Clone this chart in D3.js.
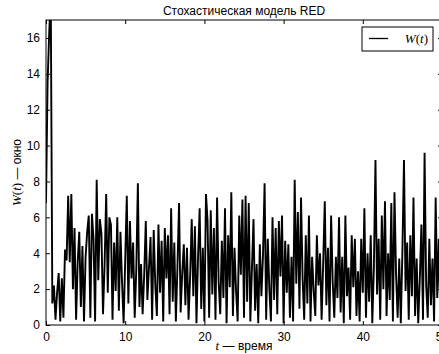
<!DOCTYPE html>
<html>
<head>
<meta charset="utf-8">
<script src="https://cdn.jsdelivr.net/npm/d3@7"></script>
<style>
  body { margin: 0; background: #fff; }
  svg { display: block; font-family: "Liberation Sans", Arial, sans-serif; }
</style>
</head>
<body>
<div id="chart"></div>
<script>
// sample step of the series (t = i * dt)
const dt = 0.2;

// W(t), one value per dt
const windowValues = [
  6.8, 13.5, 16.2, 18.5, 1.2, 2.2, 0.3, 1.8, 2.9, 0.2,
  2.6, 0.4, 4.2, 3.6, 7.2, 3.5, 7.3, 2.0, 5.4, 0.3,
  3.5, 5.2, 1.0, 4.4, 0.2, 3.8, 5.2, 6.1, 0.4, 6.2,
  4.8, 0.2, 8.1, 2.5, 5.9, 5.1, 0.6, 3.4, 7.3, 1.8,
  6.0, 5.6, 0.3, 4.6, 1.9, 6.0, 0.8, 5.2, 2.4, 0.1,
  3.6, 7.2, 1.2, 5.8, 2.6, 4.6, 0.4, 3.1, 7.9, 1.0,
  3.4, 0.6, 2.8, 5.8, 1.4, 3.2, 4.9, 0.3, 5.3, 2.2,
  0.5, 5.6, 1.8, 4.7, 0.2, 5.4, 2.6, 5.0, 0.6, 6.5,
  1.3, 4.6, 0.2, 3.3, 6.8, 0.7, 2.9, 4.5, 1.1, 4.3,
  0.3, 2.7, 5.9, 1.6, 5.5, 0.1, 3.8, 6.5, 0.9, 4.3,
  0.2, 7.3, 5.8, 0.4, 6.4, 1.7, 5.4, 0.3, 7.1, 2.4,
  0.6, 4.7, 1.5, 6.5, 0.1, 5.0, 2.1, 7.4, 0.5, 4.3,
  1.9, 0.2, 6.1, 2.8, 7.0, 0.4, 7.2, 1.3, 6.8, 0.2,
  3.1, 5.9, 0.8, 3.4, 0.1, 4.5, 1.6, 3.9, 7.9, 0.3,
  4.8, 2.0, 0.2, 6.0, 1.4, 5.4, 0.6, 5.8, 2.7, 6.1,
  0.1, 4.7, 1.8, 4.5, 0.4, 3.8, 0.2, 8.1, 2.3, 6.3,
  0.9, 7.1, 2.6, 0.3, 5.0, 1.2, 6.1, 0.2, 3.8, 1.9,
  0.5, 5.0, 2.2, 4.0, 0.3, 3.5, 6.9, 1.1, 4.3, 0.2,
  6.1, 2.4, 0.4, 3.8, 1.5, 6.0, 0.7, 3.8, 0.1, 6.1,
  1.6, 3.2, 0.3, 5.0, 2.1, 4.8, 0.5, 3.0, 0.2, 4.8,
  1.8, 6.5, 0.4, 4.0, 1.3, 5.0, 0.1, 3.2, 9.2, 1.7,
  4.8, 0.3, 6.1, 2.0, 6.9, 0.5, 4.0, 1.4, 6.8, 0.2,
  7.4, 2.8, 0.4, 3.7, 0.1, 4.1, 9.2, 1.9, 4.6, 0.3,
  5.0, 1.6, 7.1, 0.5, 3.7, 0.1, 2.6, 5.6, 0.3, 9.6,
  2.2, 0.4, 4.8, 1.1, 3.7, 0.2, 7.1, 1.5, 4.8, 0.3,
  6.0
];

const xTicks = [0, 10, 20, 30, 40, 50];
const yTicks = [0, 2, 4, 6, 8, 10, 12, 14, 16];

const width = 439, height = 354;
const margin = {top: 20, right: -3, bottom: 29, left: 46};
const innerW = width - margin.left - margin.right;
const innerH = height - margin.top - margin.bottom;

const svg = d3.select("#chart").append("svg")
  .attr("width", width)
  .attr("height", height);

const x = d3.scaleLinear().domain([0, 50]).range([0, innerW]);
const y = d3.scaleLinear().domain([0, 17]).range([innerH, 0]);

const g = svg.append("g")
  .attr("transform", "translate(" + margin.left + "," + margin.top + ")");

g.append("clipPath").attr("id", "plot-clip")
  .append("rect").attr("width", innerW).attr("height", innerH);

// data line
const line = d3.line()
  .x((d, i) => x(i * dt))
  .y(d => y(d));

g.append("path")
  .datum(windowValues)
  .attr("clip-path", "url(#plot-clip)")
  .attr("fill", "none")
  .attr("stroke", "#000")
  .attr("stroke-width", 1.9)
  .attr("stroke-linejoin", "miter")
  .attr("d", line);

// axes, ticks pointing inward like matlab
const tickLen = 4;
const fmt = d3.format("d");

const xAxis = g.append("g")
  .attr("transform", "translate(0," + innerH + ")")
  .call(d3.axisBottom(x).tickValues(xTicks).tickFormat(fmt).tickSizeInner(-tickLen).tickSizeOuter(0).tickPadding(7));
const xTop = g.append("g")
  .call(d3.axisTop(x).tickValues(xTicks).tickFormat("").tickSizeInner(-tickLen).tickSizeOuter(0));
const yAxis = g.append("g")
  .call(d3.axisLeft(y).tickValues(yTicks).tickFormat(fmt).tickSizeInner(-tickLen).tickSizeOuter(0).tickPadding(6));
const yRight = g.append("g")
  .attr("transform", "translate(" + innerW + ",0)")
  .call(d3.axisRight(y).tickValues(yTicks).tickFormat("").tickSizeInner(-tickLen).tickSizeOuter(0));

[xAxis, xTop, yAxis, yRight].forEach(a => {
  a.select(".domain").remove();
  a.selectAll("line").attr("stroke", "#000");
  a.selectAll("text")
    .attr("fill", "#000")
    .style("font-family", "'Liberation Sans', Arial, sans-serif")
    .style("font-size", "12px");
});

// frame
g.append("rect")
  .attr("width", innerW)
  .attr("height", innerH)
  .attr("fill", "none")
  .attr("stroke", "#000")
  .attr("stroke-width", 1);

// title
svg.append("text")
  .attr("x", margin.left + innerW / 2)
  .attr("y", 15)
  .attr("text-anchor", "middle")
  .style("font-size", "12px")
  .text("Стохастическая модель RED");

// x label
const xl = svg.append("text")
  .attr("x", margin.left + innerW / 2)
  .attr("y", 350)
  .attr("text-anchor", "middle")
  .style("font-size", "12px");
xl.append("tspan").style("font-family", "'Liberation Serif', 'Times New Roman', serif")
  .style("font-style", "italic").style("font-size", "13px").text("t");
xl.append("tspan").text(" — время");

// y label
const yl = svg.append("text")
  .attr("transform", "translate(21," + (margin.top + innerH / 2) + ") rotate(-90)")
  .attr("text-anchor", "middle")
  .style("font-size", "12px");
yl.append("tspan").style("font-family", "'Liberation Serif', 'Times New Roman', serif")
  .style("font-style", "italic").style("font-size", "13px").text("W");
yl.append("tspan").style("font-family", "'Liberation Serif', 'Times New Roman', serif")
  .style("font-size", "13px").text("(");
yl.append("tspan").style("font-family", "'Liberation Serif', 'Times New Roman', serif")
  .style("font-style", "italic").style("font-size", "13px").text("t");
yl.append("tspan").style("font-family", "'Liberation Serif', 'Times New Roman', serif")
  .style("font-size", "13px").text(")");
yl.append("tspan").text(" — окно");

// legend
const lg = svg.append("g").attr("transform", "translate(362,27)");
lg.append("rect")
  .attr("width", 71).attr("height", 24)
  .attr("fill", "#fff").attr("stroke", "#000");
lg.append("line")
  .attr("x1", 7).attr("x2", 26).attr("y1", 11.5).attr("y2", 11.5)
  .attr("stroke", "#000").attr("stroke-width", 1.3);
const lt = lg.append("text")
  .attr("x", 66).attr("y", 16)
  .attr("text-anchor", "end")
  .style("font-family", "'Liberation Serif', 'Times New Roman', serif")
  .style("font-size", "13px");
lt.append("tspan").style("font-style", "italic").text("W");
lt.append("tspan").text("(");
lt.append("tspan").style("font-style", "italic").text("t");
lt.append("tspan").text(")");
</script>
</body>
</html>
